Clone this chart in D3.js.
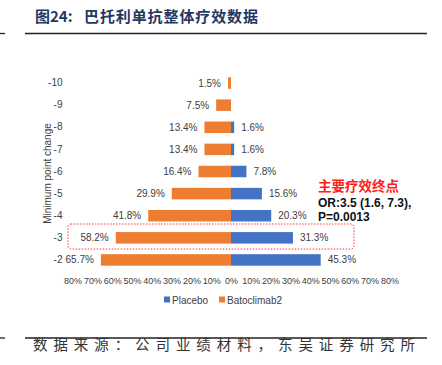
<!DOCTYPE html>
<html><head><meta charset="utf-8">
<script src="https://cdn.jsdelivr.net/npm/d3@7"></script>
<style>body{margin:0;background:#fff}svg{display:block}</style>
</head><body>
<script>
const categories = ["-10","-9","-8","-7","-6","-5","-4","-3","-2"];
const placebo = [0, 0, 1.6, 1.6, 7.8, 15.6, 20.3, 31.3, 45.3];
const batoclimab = [1.5, 7.5, 13.4, 13.4, 16.4, 29.9, 41.8, 58.2, 65.7];
const xTicks = [-80,-70,-60,-50,-40,-30,-20,-10,0,10,20,30,40,50,60,70,80];
const seriesNames = ["Placebo","Batoclimab2"];
const colors = {Placebo:"#4472C4", Batoclimab2:"#ED7D31"};

const W = 442, H = 365;
const svg = d3.select("body").append("svg").attr("width", W).attr("height", H);
const font = "'Liberation Sans', Arial, sans-serif";
const cjk = "'Noto Sans CJK SC', sans-serif";

// header
svg.append("text").attr("x", 35).attr("y", 22).attr("font-family", cjk).attr("font-weight", "bold")
  .attr("font-size", 15).attr("fill", "#1F3864").text("图24:");
svg.append("text").attr("x", 84).attr("y", 22).attr("font-family", cjk).attr("font-weight", "bold")
  .attr("font-size", 15).attr("fill", "#1F3864").attr("textLength", 174).attr("lengthAdjust", "spacing")
  .text("巴托利单抗整体疗效数据");
[[0,5],[25,427]].forEach(([a,b]) => {
  svg.append("line").attr("x1", a).attr("x2", b).attr("y1", 33.5).attr("y2", 33.5).attr("stroke", "#222").attr("stroke-width", 1.3);
  svg.append("line").attr("x1", a).attr("x2", b).attr("y1", 338).attr("y2", 338).attr("stroke", "#222").attr("stroke-width", 1.3);
});
svg.append("text").attr("x", 33).attr("y", 350).attr("font-family", cjk).attr("font-size", 14.5)
  .attr("fill", "#333").attr("textLength", 382).attr("lengthAdjust", "spacing")
  .text("数据来源：公司业绩材料，东吴证券研究所");

const x = d3.scaleLinear().domain([-80, 80]).range([72.6, 389.4]);
const y = d3.scaleBand().domain(categories).range([72, 271]).paddingInner(0.48).paddingOuter(0.24);

const data = categories.map((c, i) => ({c, p: placebo[i], b: batoclimab[i]}));

// highlight box (behind)
svg.append("rect").attr("x", 68).attr("y", 224).attr("width", 286).attr("height", 25).attr("rx", 3)
  .attr("fill", "none").attr("stroke", "#FF3B3B").attr("stroke-width", 1).attr("stroke-dasharray", "1.5,1.5");

// bars
svg.selectAll(".bb").data(data).enter().append("rect")
  .attr("x", d => x(-d.b)).attr("width", d => x(0) - x(-d.b))
  .attr("y", d => y(d.c)).attr("height", y.bandwidth()).attr("fill", colors.Batoclimab2);
svg.selectAll(".pb").data(data.filter(d => d.p > 0)).enter().append("rect")
  .attr("x", x(0)).attr("width", d => x(d.p) - x(0))
  .attr("y", d => y(d.c)).attr("height", y.bandwidth()).attr("fill", colors.Placebo);

// labels
svg.selectAll(".bl").data(data).enter().append("text")
  .attr("x", d => x(-d.b) - 7).attr("y", d => y(d.c) + y.bandwidth()/2).attr("dy", "0.35em")
  .attr("text-anchor", "end").attr("font-family", font).attr("font-size", 10).attr("fill", "#404040")
  .text(d => d.b.toFixed(1) + "%");
svg.selectAll(".pl").data(data.filter(d => d.p > 0)).enter().append("text")
  .attr("x", d => x(d.p) + 7).attr("y", d => y(d.c) + y.bandwidth()/2).attr("dy", "0.35em")
  .attr("font-family", font).attr("font-size", 10).attr("fill", "#404040")
  .text(d => d.p.toFixed(1) + "%");

// y axis
const ya = svg.append("g").attr("transform", "translate(62.5,0)")
  .call(d3.axisLeft(y).tickSize(0).tickPadding(0));
ya.select(".domain").remove();
ya.selectAll("text").attr("font-family", font).attr("font-size", 10).attr("fill", "#404040");

svg.append("text").attr("transform", "translate(51,173.5) rotate(-90)").attr("text-anchor", "middle")
  .attr("font-family", font).attr("font-size", 10).attr("fill", "#404040").text("Minimum point change");

// x axis
const xa = svg.append("g").attr("transform", "translate(0,277.5)")
  .call(d3.axisBottom(x).tickValues(xTicks).tickSize(0).tickPadding(0).tickFormat(d => Math.abs(d) + "%"));
xa.select(".domain").remove();
xa.selectAll("text").attr("font-family", font).attr("font-size", 9).attr("fill", "#404040").attr("dy", "0.71em");

// legend
const leg = [{n:"Placebo", x:164}, {n:"Batoclimab2", x:219}];
leg.forEach(l => {
  svg.append("rect").attr("x", l.x).attr("y", 296.5).attr("width", 6).attr("height", 6).attr("fill", colors[l.n]);
  svg.append("text").attr("x", l.x + 8).attr("y", 300).attr("dy", "0.35em").attr("font-family", font)
    .attr("font-size", 10).attr("fill", "#404040").text(l.n);
});

// annotation
svg.append("text").attr("x", 318).attr("y", 191).attr("font-family", cjk).attr("font-size", 13.5)
  .attr("font-weight", "bold").attr("fill", "#FF2020").text("主要疗效终点");
svg.append("text").attr("x", 318).attr("y", 207).attr("font-family", font).attr("font-size", 12)
  .attr("font-weight", "bold").attr("fill", "#111").text("OR:3.5 (1.6, 7.3),");
svg.append("text").attr("x", 318).attr("y", 221).attr("font-family", font).attr("font-size", 12)
  .attr("font-weight", "bold").attr("fill", "#111").text("P=0.0013");
</script>
</body></html>
